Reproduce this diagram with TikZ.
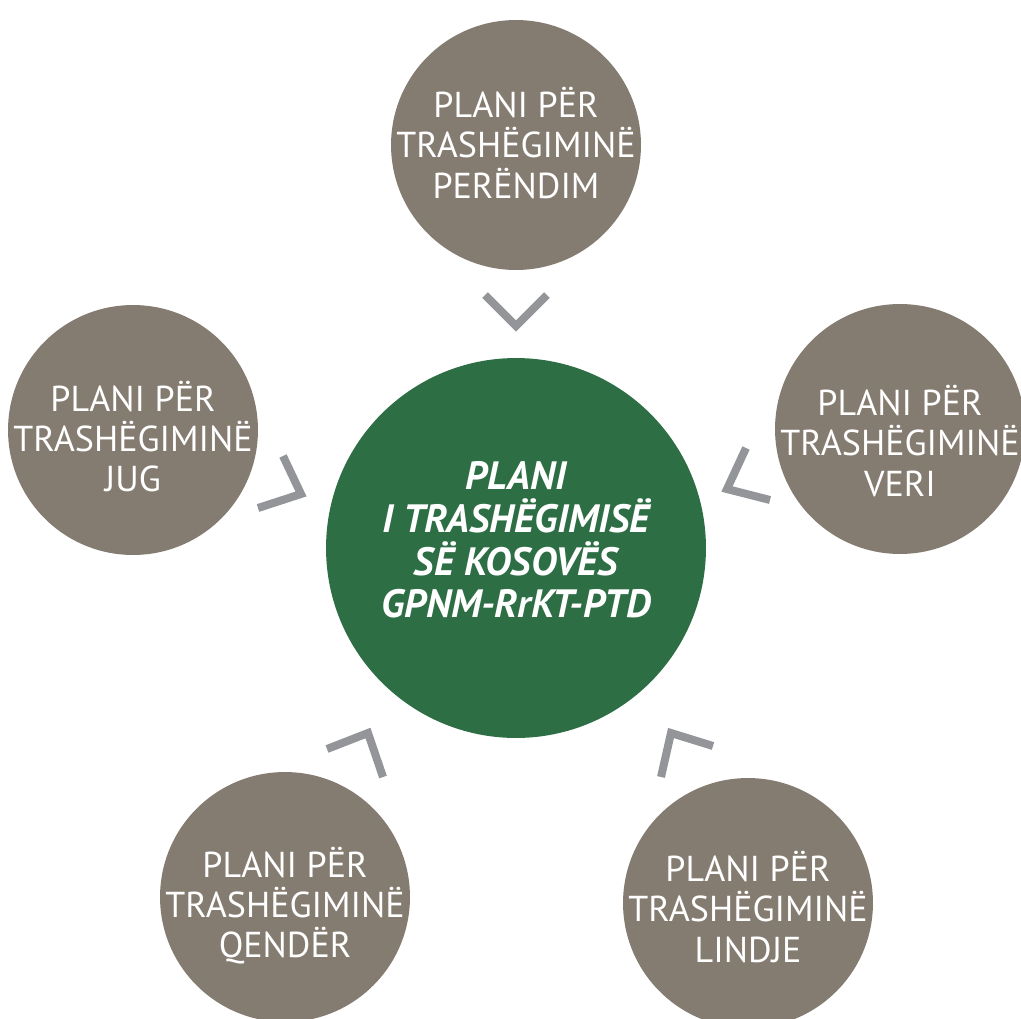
\documentclass[tikz,border=0pt]{standalone}
\usepackage{fontspec}
\setmainfont{PT Sans}
\definecolor{plangray}{HTML}{857C71}
\definecolor{plangreen}{HTML}{2D6E45}
\definecolor{chevgray}{HTML}{939598}

\begin{document}
\begin{tikzpicture}[x=0.02cm,y=-0.02cm]
        \tikzstyle{every node} = [circle, inner sep=0pt]
        \tikzstyle{region} = [fill=plangray, minimum size=5cm]
        \tikzstyle{regtext} = [rectangle, text=white, align=center, font=\fontsize{20.5}{22.8}\selectfont]
        \tikzstyle{chevron} = [draw=chevgray, line width=0.16cm, miter limit=10]
        \useasboundingbox (0,0) rectangle (1021,1018);
        \clip (0,0) rectangle (1021,1018);
        % the plan of Kosovo in the middle
        \node[fill=plangreen, minimum size=7.6cm] (kosova) at (516,548) {};
        \node[regtext, font=\fontsize{22.5}{24.2}\selectfont\bfseries\itshape] (kosovatext) at (516,540)
            {PLANI\\I TRASHËGIMISË\\SË KOSOVËS\\GPNM-RrKT-PTD};
        % the five regional plans
        \node[region] (perendim) at (516,145) {};
        \node[region] (jug) at (133,430) {};
        \node[region] (veri) at (900,429) {};
        \node[region] (qender) at (285,897) {};
        \node[region] (lindje) at (748,903) {};
        \node[regtext] (perendimtext) at (516,143) {PLANI PËR\\TRASHËGIMINË\\PERËNDIM};
        \node[regtext] (jugtext) at (133,437) {PLANI PËR\\TRASHËGIMINË\\JUG};
        \node[regtext] (veritext) at (900,441) {PLANI PËR\\TRASHËGIMINË\\VERI};
        \node[regtext] (qendertext) at (285,906) {PLANI PËR\\TRASHËGIMINË\\QENDËR};
        \node[regtext] (lindjetext) at (748,907) {PLANI PËR\\TRASHËGIMINË\\LINDJE};
        % chevrons pointing to the middle
        \foreach \ax/\ay/\bx/\by/\cx/\cy in {485/295/516/326/547/295, 746/448/727/489/770/500,
                283/456/301/494/258/508, 327/749/368/733/383/777, 713/746/671/733/661/777}
            \draw[chevron] (\ax,\ay) -- (\bx,\by) -- (\cx,\cy);
    \end{tikzpicture}
\end{document}
